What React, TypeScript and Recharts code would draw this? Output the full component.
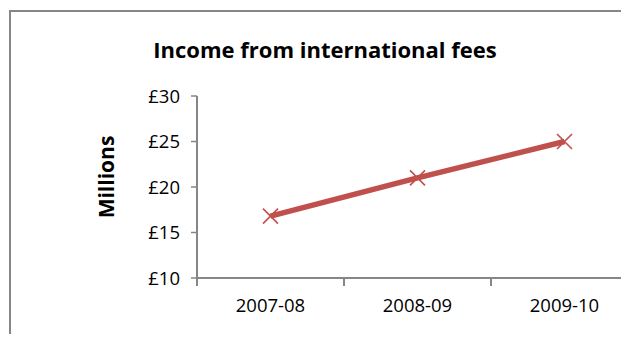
import React from 'react';
import { LineChart, Line, XAxis, YAxis } from 'recharts';

const years = ['2007-08', '2008-09', '2009-10'];
const income = [16.8, 21.0, 25.0];
const yTicks = [10, 15, 20, 25, 30];

const data = years.map((year, i) => ({ year, income: income[i] }));

const FONT = '"Open Sans", sans-serif';
const RED = '#C0504D';
const GREY = '#868686';

const XTick = (props: any) => {
  const { x, y, payload, index } = props;
  const off = payload?.offset ?? 0;
  const last = index === years.length - 1;
  return (
    <g>
      <line x1={x - off} x2={x - off} y1={y} y2={y + 8} stroke={GREY} strokeWidth={2} />
      {last && <line x1={x + off} x2={x + off} y1={y} y2={y + 8} stroke={GREY} strokeWidth={2} />}
      <text x={x} y={y + 34} textAnchor="middle" fontFamily={FONT} fontSize={18.5} fill="#000">
        {payload.value}
      </text>
    </g>
  );
};

const Cross = (props: any) => {
  const { cx, cy, index } = props;
  if (cx == null || cy == null) return null;
  const s = 7.5;
  return (
    <path
      key={index}
      d={`M${cx - s},${cy - s}L${cx + s},${cy + s}M${cx - s},${cy + s}L${cx + s},${cy - s}`}
      stroke={RED}
      strokeWidth={1.6}
      fill="none"
    />
  );
};

export default function App() {
  return (
    <div
      style={{
        position: 'relative',
        width: 629,
        height: 342,
        margin: -8,
        overflow: 'hidden',
        background: '#fff',
        fontFamily: FONT,
      }}
    >
      <div
        style={{
          position: 'absolute',
          left: 9,
          top: 10,
          width: 700,
          height: 400,
          border: `2px solid ${GREY}`,
        }}
      />
      <div
        style={{
          position: 'absolute',
          left: 0,
          width: 650,
          top: 37.5,
          lineHeight: '22px',
          textAlign: 'center',
          fontSize: 22,
          fontWeight: 700,
          color: '#000',
        }}
      >
        Income from international fees
      </div>
      <div
        style={{
          position: 'absolute',
          left: 106,
          top: 177,
          transform: 'translate(-50%, -50%) rotate(-90deg)',
          fontSize: 21,
          fontWeight: 700,
          lineHeight: '21px',
          whiteSpace: 'nowrap',
        }}
      >
        Millions
      </div>
      <div style={{ position: 'absolute', left: 0, top: 0 }}>
        <LineChart width={700} height={342} data={data} margin={{ top: 96, right: 62, bottom: 34, left: 107 }}>
          <XAxis
            dataKey="year"
            scale="band"
            height={30}
            tickSize={0}
            tickMargin={0}
            tickLine={false}
            axisLine={{ stroke: GREY, strokeWidth: 2 }}
            tick={<XTick />}
            interval={0}
          />
          <YAxis
            domain={[10, 30]}
            ticks={yTicks}
            width={90}
            tickSize={6}
            tickMargin={11}
            tickFormatter={(v: number) => `£${v}`}
            axisLine={{ stroke: GREY, strokeWidth: 2 }}
            tickLine={{ stroke: GREY, strokeWidth: 1.5 }}
            tick={{ fill: '#000', fontFamily: FONT, fontSize: 18.5 }}
          />
          <Line
            dataKey="income"
            stroke={RED}
            strokeWidth={5.5}
            dot={<Cross />}
            activeDot={false}
            isAnimationActive={false}
          />
        </LineChart>
      </div>
    </div>
  );
}
